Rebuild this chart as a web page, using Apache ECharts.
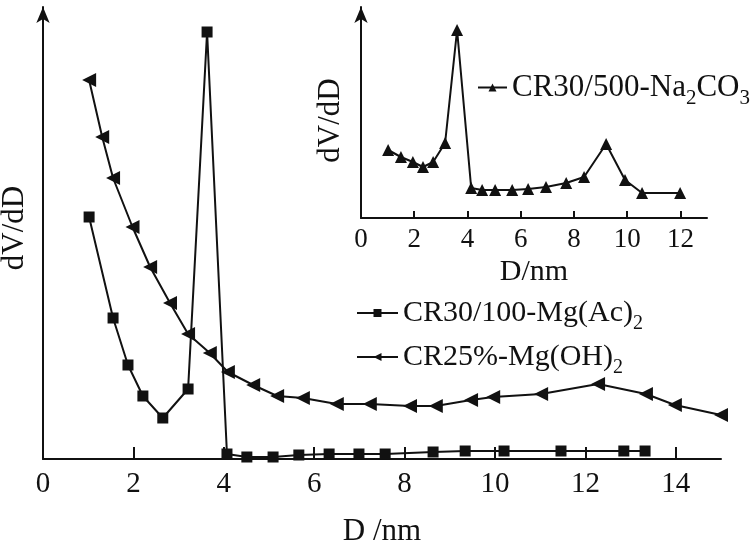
<!DOCTYPE html>
<html>
<head>
<meta charset="utf-8">
<script src="https://cdn.jsdelivr.net/npm/echarts@6/dist/echarts.min.js"></script>
<style>html,body{margin:0;padding:0;background:#fff}#c{width:756px;height:543px}</style>
</head>
<body>
<div id="c"></div>
<script>
// Main chart: CR30/100-Mg(Ac)2 (squares)
var sqX = [1.02,1.55,1.88,2.21,2.65,3.21,3.63,4.07,4.51,5.09,5.66,6.33,6.99,7.57,8.63,9.34,10.2,11.46,12.85,13.32];
var sqY = [242,141,94,63,41,70,427,5,2,2,4,5,5,5,7,8,8,8,8,8];
// Main chart: CR25%-Mg(OH)2 (left triangles)
var triX = [1.02,1.31,1.55,1.98,2.37,2.81,3.21,3.69,4.09,4.65,5.18,5.75,6.5,7.23,8.12,8.69,9.47,9.96,11.02,12.28,13.34,13.98,15.0];
var triY = [379,322,281,232,192,156,125,106,87,74,63,61,55,55,53,53,59,62,65,75,65,54,44];
// Inset: CR30/500-Na2CO3 (up triangles)
var inX = [1.02,1.5,1.95,2.33,2.71,3.16,3.61,4.14,4.55,5.04,5.68,6.28,6.95,7.71,8.38,9.21,9.92,10.56,11.99];
var inY = [68,61,56,51,56,75,188,30,28,28,28,29,31,35,41,74,38,25,25];

var seriesNames = ['CR30/100-Mg(Ac)2','CR25%-Mg(OH)2','CR30/500-Na2CO3'];
var legendRich = {
  'CR30/100-Mg(Ac)2': '{n|CR30/100-Mg(Ac)}{s|2}',
  'CR25%-Mg(OH)2': '{n|CR25%-Mg(OH)}{s|2}',
  'CR30/500-Na2CO3': '{n|CR30/500-Na}{s|2}{n|CO}{s|3}'
};

function pairs(xs, ys){ return xs.map(function(x,i){ return [x, ys[i]]; }); }

var FONT = 'Liberation Serif';
var rich = {
  n: {fontFamily: FONT, fontSize: 30, color: '#111', lineHeight: 42, verticalAlign: 'middle'},
  s: {fontFamily: FONT, fontSize: 20, color: '#111', lineHeight: 42, verticalAlign: 'bottom'}
};
var richInset = {
  n: {fontFamily: FONT, fontSize: 31, color: '#111', lineHeight: 43, verticalAlign: 'middle'},
  s: {fontFamily: FONT, fontSize: 21, color: '#111', lineHeight: 43, verticalAlign: 'bottom'}
};
function legendFmt(name){ return legendRich[name]; }

var chart = echarts.init(document.getElementById('c'));
chart.setOption({
  backgroundColor: '#fff',
  animation: false,
  grid: [
    {left: 43, right: 35, top: 7, bottom: 84, outerBoundsMode: 'none', containLabel: false},
    {left: 361, right: 49, top: 7, bottom: 325, outerBoundsMode: 'none', containLabel: false}
  ],
  xAxis: [
    {
      gridIndex: 0, type: 'value', min: 0, max: 15, interval: 2,
      name: 'D /nm', nameLocation: 'middle', nameGap: 57,
      nameTextStyle: {fontFamily: FONT, fontSize: 31, color: '#111'},
      axisLine: {lineStyle: {color: '#111', width: 2}},
      axisTick: {inside: true, length: 12, lineStyle: {color: '#111', width: 2}},
      axisLabel: {fontFamily: FONT, fontSize: 29, color: '#111', margin: 11, showMaxLabel: false},
      splitLine: {show: false}
    },
    {
      gridIndex: 1, type: 'value', min: 0, max: 13, interval: 2,
      name: 'D/nm', nameLocation: 'middle', nameGap: 39,
      nameTextStyle: {fontFamily: FONT, fontSize: 30, color: '#111'},
      axisLine: {lineStyle: {color: '#111', width: 2}},
      axisTick: {inside: true, length: 7, lineStyle: {color: '#111', width: 2}},
      axisLabel: {fontFamily: FONT, fontSize: 27, color: '#111', margin: 8, showMaxLabel: false},
      splitLine: {show: false}
    }
  ],
  yAxis: [
    {
      gridIndex: 0, type: 'value', min: 0, max: 452,
      name: 'dV/dD', nameLocation: 'middle', nameGap: 13, nameRotate: 90,
      nameTextStyle: {fontFamily: FONT, fontSize: 31, color: '#111', padding: [0, 0, 0, 10]},
      axisLine: {show: true, lineStyle: {color: '#111', width: 2}, symbol: ['none','arrow'], symbolSize: [10,16]},
      axisTick: {show: false}, axisLabel: {show: false}, splitLine: {show: false}
    },
    {
      gridIndex: 1, type: 'value', min: 0, max: 211,
      name: 'dV/dD', nameLocation: 'middle', nameGap: 15, nameRotate: 90,
      nameTextStyle: {fontFamily: FONT, fontSize: 31, color: '#111', padding: [0, 16, 0, 0]},
      axisLine: {show: true, lineStyle: {color: '#111', width: 2}, symbol: ['none','arrow'], symbolSize: [10,16]},
      axisTick: {show: false}, axisLabel: {show: false}, splitLine: {show: false}
    }
  ],
  legend: [
    {
      data: [seriesNames[0], seriesNames[1]], orient: 'vertical', left: 351, top: 293,
      itemWidth: 41, itemHeight: 10, itemGap: 8,
      formatter: legendFmt, textStyle: {rich: rich}, selectedMode: false
    },
    {
      data: [seriesNames[2]], orient: 'vertical', left: 472, top: 67,
      itemWidth: 29, itemHeight: 10, itemGap: 4,
      formatter: legendFmt, textStyle: {rich: richInset}, selectedMode: false
    }
  ],
  series: [
    {
      name: seriesNames[0], type: 'line', xAxisIndex: 0, yAxisIndex: 0,
      data: pairs(sqX, sqY), symbol: 'rect', symbolSize: 11,
      lineStyle: {color: '#111', width: 2}, itemStyle: {color: '#111'}
    },
    {
      name: seriesNames[1], type: 'line', xAxisIndex: 0, yAxisIndex: 0,
      data: pairs(triX, triY), symbol: 'triangle', symbolSize: 14, symbolRotate: 90,
      lineStyle: {color: '#111', width: 2}, itemStyle: {color: '#111'}
    },
    {
      name: seriesNames[2], type: 'line', xAxisIndex: 1, yAxisIndex: 1,
      data: pairs(inX, inY), symbol: 'triangle', symbolSize: 12,
      lineStyle: {color: '#111', width: 2}, itemStyle: {color: '#111'}
    }
  ]
});
</script>
</body>
</html>
